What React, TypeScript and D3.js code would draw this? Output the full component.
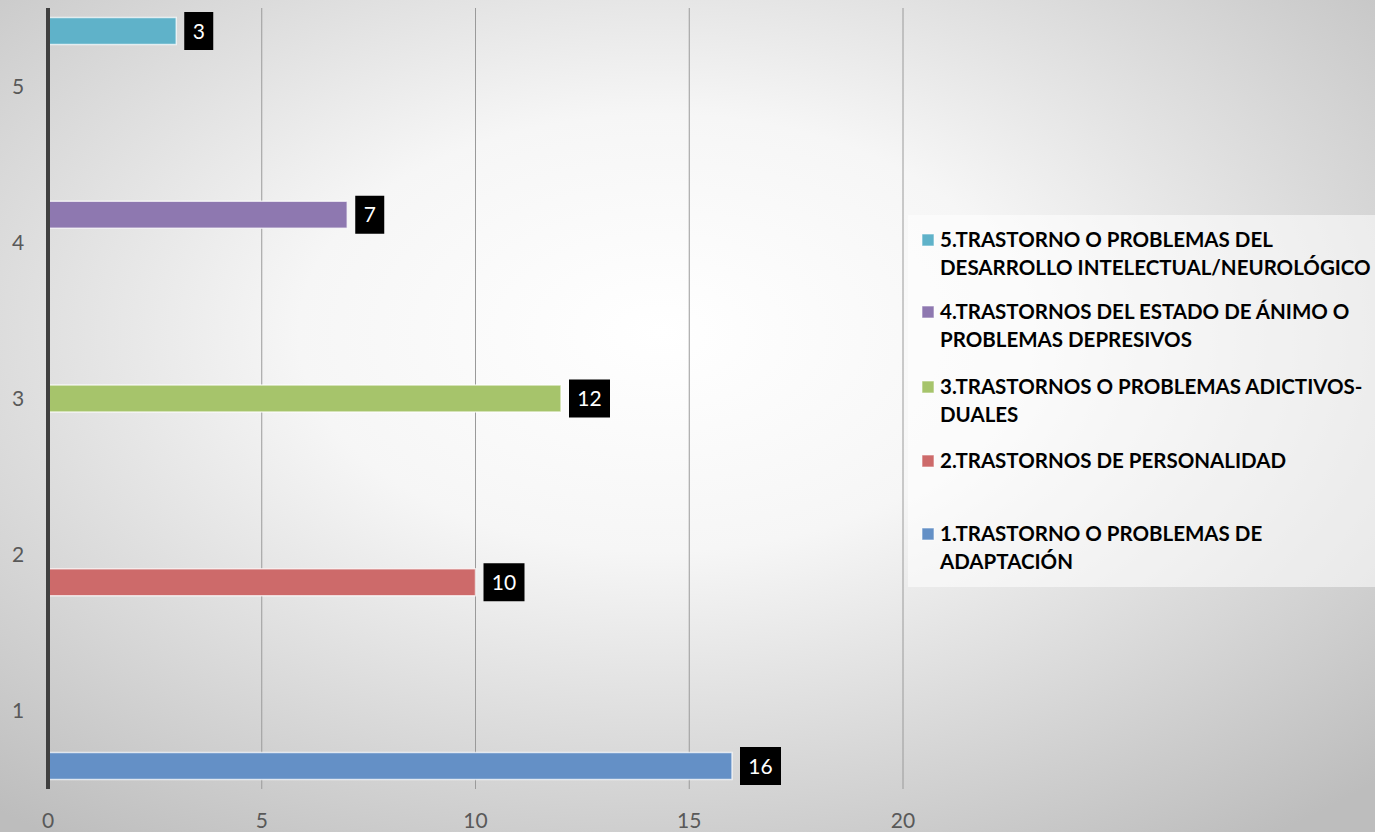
import React from "react";
import * as d3 from "d3";

const W = 1375;
const H = 832;

const series = [1, 2, 3, 4, 5];
const values = [16, 10, 12, 7, 3];
const colors = ["#6490c6", "#cd6a6a", "#a6c46b", "#8e78b0", "#5fb2c9"];
const legendLines = [
  ["1.TRASTORNO O PROBLEMAS DE", "ADAPTACIÓN"],
  ["2.TRASTORNOS DE PERSONALIDAD"],
  ["3.TRASTORNOS O PROBLEMAS ADICTIVOS-", "DUALES"],
  ["4.TRASTORNOS DEL ESTADO DE ÁNIMO O", "PROBLEMAS DEPRESIVOS"],
  ["5.TRASTORNO O PROBLEMAS DEL", "DESARROLLO INTELECTUAL/NEUROLÓGICO"],
];
const legendY = [534, 461, 387, 312, 240];
const yTickLabels = ["1", "2", "3", "4", "5"];
const xTicks = [0, 5, 10, 15, 20];

export default function App() {
  const x = d3.scaleLinear().domain([0, 20]).range([48, 903]);
  const yCat = d3.scaleBand<string>().domain([...yTickLabels].reverse()).range([8, 789]);
  const yBar = d3.scaleLinear().domain([5, 1]).range([31, 766]);
  const barH = 27;
  const font = "Lato, 'Open Sans', sans-serif";

  return (
    <svg width={W} height={H} style={{ position: "absolute", left: 0, top: 0, display: "block" }}>
      <defs>
        <radialGradient id="bg" cx="0.48" cy="0.4" r="0.75">
          <stop offset="0" stopColor="#ffffff" />
          <stop offset="0.35" stopColor="#f6f6f6" />
          <stop offset="1" stopColor="#bdbdbd" />
        </radialGradient>
      </defs>
      <rect x={0} y={0} width={W} height={H} fill="url(#bg)" />
      {xTicks.slice(1).map((t) => (
        <line key={t} x1={x(t)} x2={x(t)} y1={8} y2={789} stroke="#9a9a9a" strokeWidth={1} />
      ))}
      <rect x={908} y={215} width={W - 908} height={372} fill="rgba(255,255,255,0.55)" />
      {series.map((s, i) => (
        <g key={s}>
          <rect x={922} y={legendY[i] - 6} width={12} height={12} fill={colors[i]} stroke="rgba(255,255,255,0.6)" strokeWidth={1} />
          {legendLines[i].map((ln, j) => (
            <text key={j} x={940} y={legendY[i] + j * 28} dy="0.35em" fontFamily={font} fontWeight={700} fontSize={20.5} fill="#000">
              {ln}
            </text>
          ))}
        </g>
      ))}
      {series.map((s, i) => {
        const cy = yBar(s);
        const xe = x(values[i]);
        const label = String(values[i]);
        const bw = label.length === 1 ? 29 : 41;
        return (
          <g key={s}>
            <rect x={x(0)} y={cy - barH / 2} width={xe - x(0)} height={barH} fill={colors[i]} stroke="rgba(255,255,255,0.7)" strokeWidth={1.5} />
            <rect x={xe + 8} y={cy - 19} width={bw} height={38} fill="#000" />
            <text x={xe + 8 + bw / 2} y={cy} dy="0.36em" textAnchor="middle" fontFamily={font} fontSize={21} fill="#fff">
              {label}
            </text>
          </g>
        );
      })}
      <line x1={48} x2={48} y1={8} y2={789} stroke="#404040" strokeWidth={4} />
      {yTickLabels.map((l) => (
        <text key={l} x={18} y={(yCat(l) as number) + yCat.bandwidth() / 2} dy="0.36em" textAnchor="middle" fontFamily={font} fontSize={21} fill="#595959">
          {l}
        </text>
      ))}
      {xTicks.map((t) => (
        <text key={t} x={x(t)} y={820} dy="0.36em" textAnchor="middle" fontFamily={font} fontSize={21} fill="#595959">
          {t}
        </text>
      ))}
    </svg>
  );
}
